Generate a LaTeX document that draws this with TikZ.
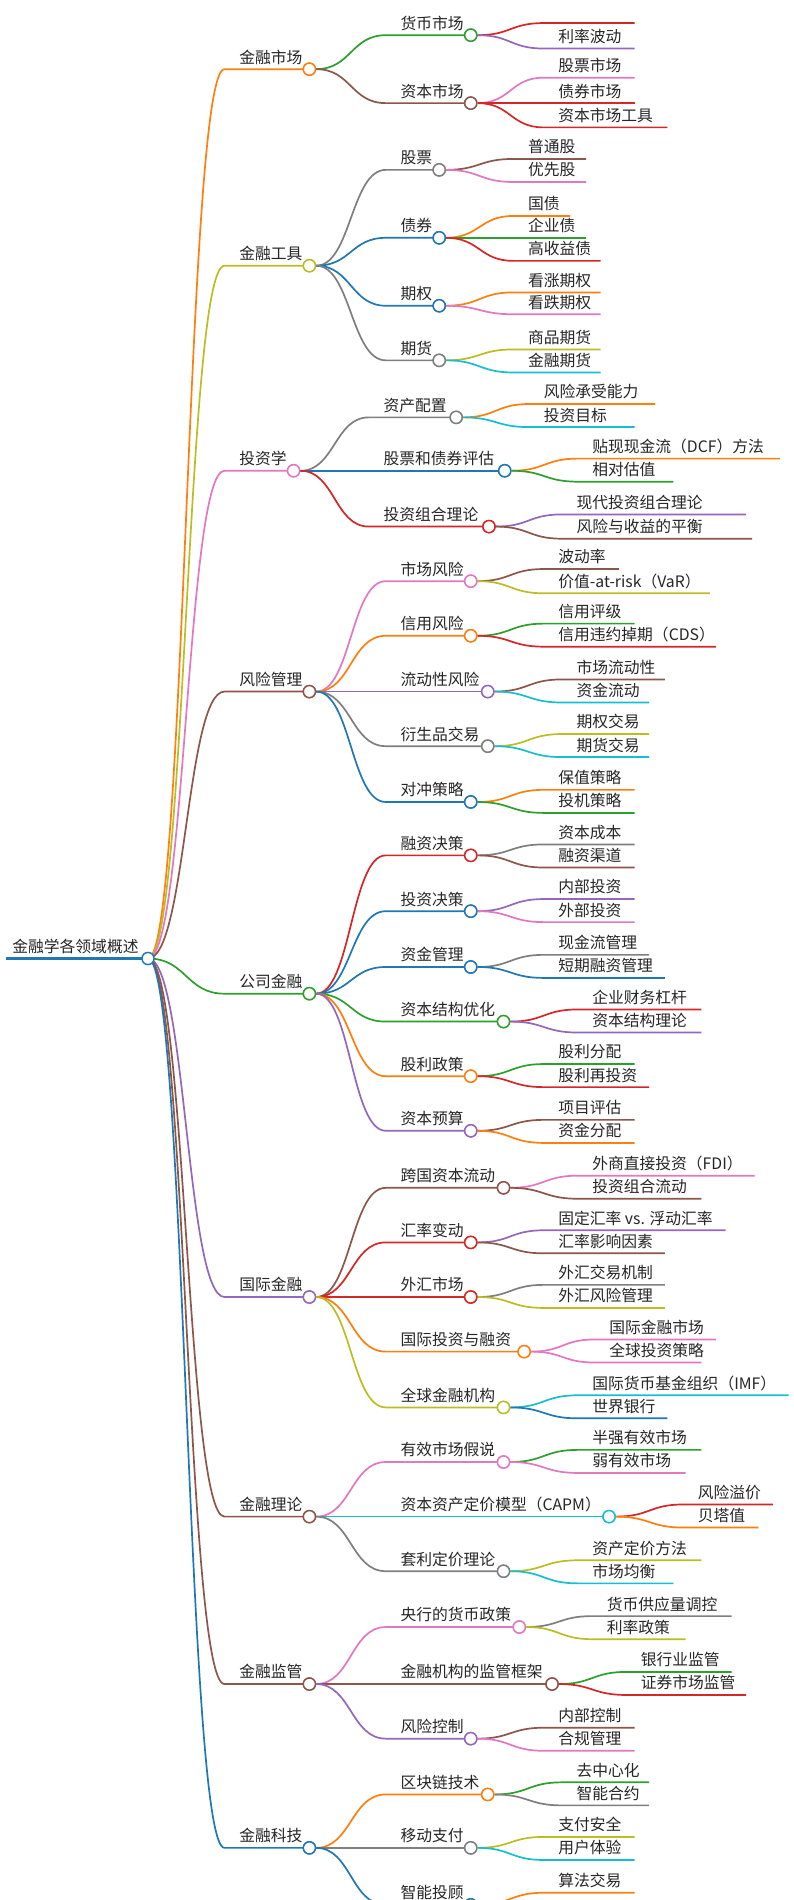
\documentclass[tikz,border=0pt]{standalone}
\usepackage{fontspec}
\setmainfont{Noto Sans CJK SC}
\usetikzlibrary{calc}
\definecolor{cb}{HTML}{1F77B4}\definecolor{co}{HTML}{FF7F0E}\definecolor{cg}{HTML}{2CA02C}
\definecolor{cr}{HTML}{D62728}\definecolor{cp}{HTML}{9467BD}\definecolor{cn}{HTML}{8C564B}
\definecolor{ck}{HTML}{E377C2}\definecolor{cy}{HTML}{7F7F7F}\definecolor{cl}{HTML}{BCBD22}
\definecolor{cc}{HTML}{17BECF}
\tikzset{lbl/.style={inner sep=0pt,font=\fontsize{13}{15}\selectfont,text=black!85,anchor=base west},
 lw/.style={line width=1.4pt},
 circ/.style={circle,draw,line width=1.2pt,fill=white,minimum size=10pt,inner sep=0pt}}
% #1 parent, #2 name, #3 color, #4 textx, #5 y, #6 endx, #7 text
\newcommand\br[7]{%
 \coordinate (#2s) at (#4-12,-#5);
 \coordinate (#2) at (#6,-#5);
 \node[lbl] (#2t) at (#4,-#5+5) {#7};
 \draw[#3,lw] let \p1=(#1), \p2=(#2s) in (\p1) .. controls ({\x1/2+\x2/2},\y1) and ({\x1/2+\x2/2},\y2) .. (\p2) -- (#2);}
\newcommand\brc[7]{\br{#1}{#2}{#3}{#4}{#5}{#6}{#7}\node[circ,draw=#3] (#2c) at (#2) {};}
\begin{document}
\begin{tikzpicture}[x=1pt,y=1pt]
\useasboundingbox (0,0) rectangle (654,-1566);
\clip (0,0) rectangle (654,-1566);
\fill[white] (0,0) rectangle (654,-1566);
\coordinate (rs) at (5,-790);
\coordinate (r) at (122,-790);
\node[lbl] (rt) at (10,-785) {金融学各领域概述};
\draw[cb,line width=2.6pt] (rs) -- (r);
% level 1
\brc{r}{A}{co}{197}{57}{255}{金融市场}
\brc{r}{B}{cl}{197}{219}{255}{金融工具}
\brc{r}{C}{ck}{197}{388}{242}{投资学}
\brc{r}{D}{cn}{197}{570}{255}{风险管理}
\brc{r}{E}{cg}{197}{819}{255}{公司金融}
\brc{r}{F}{cp}{197}{1069}{255}{国际金融}
\brc{r}{G}{cn}{197}{1250}{255}{金融理论}
\brc{r}{H}{cn}{197}{1388}{255}{金融监管}
\brc{r}{I}{cb}{197}{1523}{255}{金融科技}
\node[circ,draw=cb] (rc) at (r) {};
% 金融市场
\brc{Ac.east}{A1}{cg}{330}{29}{388}{货币市场}
\br{A1c.east}{A11}{cr}{460}{19}{523}{}
\br{A1c.east}{A12}{cp}{460}{40}{523}{利率波动}
\brc{Ac.east}{A2}{cn}{330}{85}{388}{资本市场}
\br{A2c.east}{A21}{ck}{460}{64}{523}{股票市场}
\br{A2c.east}{A22}{cr}{460}{85}{523}{债券市场}
\br{A2c.east}{A23}{cr}{460}{105}{550}{资本市场工具}
\node[circ,draw=cg] at (A1) {};\node[circ,draw=cn] at (A2) {};
% 金融工具
\brc{Bc.east}{B1}{cy}{330}{140}{362}{股票}
\br{B1c.east}{B11}{cn}{435}{131}{483}{普通股}
\br{B1c.east}{B12}{ck}{435}{150}{483}{优先股}
\brc{Bc.east}{B2}{cb}{330}{196}{362}{债券}
\br{B2c.east}{B21}{co}{435}{178}{470}{国债}
\br{B2c.east}{B22}{cg}{435}{196}{483}{企业债}
\br{B2c.east}{B23}{cr}{435}{215}{495}{高收益债}
\brc{Bc.east}{B3}{cb}{330}{252}{362}{期权}
\br{B3c.east}{B31}{co}{435}{241}{495}{看涨期权}
\br{B3c.east}{B32}{ck}{435}{259}{495}{看跌期权}
\brc{Bc.east}{B4}{cy}{330}{297}{362}{期货}
\br{B4c.east}{B41}{cl}{435}{288}{495}{商品期货}
\br{B4c.east}{B42}{cc}{435}{307}{495}{金融期货}
\foreach \n/\c in {B1/cy,B2/cb,B3/cb,B4/cy}{\node[circ,draw=\c] at (\n) {};}
% 投资学
\brc{Cc.east}{C1}{cy}{316}{344}{376}{资产配置}
\br{C1c.east}{C11}{co}{448}{333}{540}{风险承受能力}
\br{C1c.east}{C12}{cc}{448}{352}{523}{投资目标}
\brc{Cc.east}{C2}{cb}{316}{388}{416}{股票和债券评估}
\br{C2c.east}{C21}{co}{488}{378}{643}{贴现现金流（DCF）方法}
\br{C2c.east}{C22}{cg}{488}{397}{555}{相对估值}
\brc{Cc.east}{C3}{cr}{316}{434}{403}{投资组合理论}
\br{C3c.east}{C31}{cp}{475}{424}{615}{现代投资组合理论}
\br{C3c.east}{C32}{cn}{475}{444}{620}{风险与收益的平衡}
\foreach \n/\c in {C1/cy,C2/cb,C3/cr}{\node[circ,draw=\c] at (\n) {};}
% 风险管理
\brc{Dc.east}{D1}{ck}{330}{479}{388}{市场风险}
\br{D1c.east}{D11}{cn}{460}{469}{510}{波动率}
\br{D1c.east}{D12}{cl}{460}{489}{585}{价值-at-risk（VaR）}
\brc{Dc.east}{D2}{co}{330}{524}{388}{信用风险}
\br{D2c.east}{D21}{cg}{460}{514}{523}{信用评级}
\br{D2c.east}{D22}{cr}{460}{533}{590}{信用违约掉期（CDS）}
\brc{Dc.east}{D3}{cp}{330}{570}{402}{流动性风险}
\br{D3c.east}{D31}{cn}{475}{560}{548}{市场流动性}
\br{D3c.east}{D32}{cc}{475}{579}{535}{资金流动}
\brc{Dc.east}{D4}{cy}{330}{615}{402}{衍生品交易}
\br{D4c.east}{D41}{cl}{475}{605}{535}{期权交易}
\br{D4c.east}{D42}{cc}{475}{624}{535}{期货交易}
\brc{Dc.east}{D5}{cb}{330}{661}{388}{对冲策略}
\br{D5c.east}{D51}{co}{460}{651}{523}{保值策略}
\br{D5c.east}{D52}{cg}{460}{670}{523}{投机策略}
\foreach \n/\c in {D1/ck,D2/co,D3/cp,D4/cy,D5/cb}{\node[circ,draw=\c] at (\n) {};}
% 公司金融
\brc{Ec.east}{E1}{cr}{330}{705}{388}{融资决策}
\br{E1c.east}{E11}{cy}{460}{696}{523}{资本成本}
\br{E1c.east}{E12}{cn}{460}{715}{523}{融资渠道}
\brc{Ec.east}{E2}{cb}{330}{751}{388}{投资决策}
\br{E2c.east}{E21}{cp}{460}{741}{523}{内部投资}
\br{E2c.east}{E22}{ck}{460}{760}{523}{外部投资}
\brc{Ec.east}{E3}{cb}{330}{797}{388}{资金管理}
\br{E3c.east}{E31}{cy}{460}{787}{535}{现金流管理}
\br{E3c.east}{E32}{cb}{460}{806}{548}{短期融资管理}
\brc{Ec.east}{E4}{cg}{330}{842}{415}{资本结构优化}
\br{E4c.east}{E41}{cr}{488}{832}{578}{企业财务杠杆}
\br{E4c.east}{E42}{cp}{488}{851}{578}{资本结构理论}
\brc{Ec.east}{E5}{co}{330}{887}{388}{股利政策}
\br{E5c.east}{E51}{cg}{460}{877}{523}{股利分配}
\br{E5c.east}{E52}{cr}{460}{896}{535}{股利再投资}
\brc{Ec.east}{E6}{cp}{330}{932}{388}{资本预算}
\br{E6c.east}{E61}{cn}{460}{923}{523}{项目评估}
\br{E6c.east}{E62}{co}{460}{942}{523}{资金分配}
\foreach \n/\c in {E1/cr,E2/cb,E3/cb,E4/cg,E5/co,E6/cp}{\node[circ,draw=\c] at (\n) {};}
% 国际金融
\brc{Fc.east}{F1}{cn}{330}{979}{415}{跨国资本流动}
\br{F1c.east}{F11}{ck}{488}{969}{622}{外商直接投资（FDI）}
\br{F1c.east}{F12}{cn}{488}{988}{578}{投资组合流动}
\brc{Fc.east}{F2}{cr}{330}{1024}{388}{汇率变动}
\br{F2c.east}{F21}{cp}{460}{1014}{598}{固定汇率 vs. 浮动汇率}
\br{F2c.east}{F22}{cn}{460}{1033}{548}{汇率影响因素}
\brc{Fc.east}{F3}{cr}{330}{1069}{388}{外汇市场}
\br{F3c.east}{F31}{cy}{460}{1059}{548}{外汇交易机制}
\br{F3c.east}{F32}{cl}{460}{1078}{548}{外汇风险管理}
\brc{Fc.east}{F4}{co}{330}{1114}{432}{国际投资与融资}
\br{F4c.east}{F41}{ck}{502}{1104}{590}{国际金融市场}
\br{F4c.east}{F42}{ck}{502}{1123}{578}{全球投资策略}
\brc{Fc.east}{F5}{cl}{330}{1160}{415}{全球金融机构}
\br{F5c.east}{F51}{cc}{488}{1150}{650}{国际货币基金组织（IMF）}
\br{F5c.east}{F52}{cb}{488}{1169}{550}{世界银行}
\foreach \n/\c in {F1/cn,F2/cr,F3/cr,F4/co,F5/cl}{\node[circ,draw=\c] at (\n) {};}
% 金融理论
\brc{Gc.east}{G1}{ck}{330}{1205}{415}{有效市场假说}
\br{G1c.east}{G11}{cg}{488}{1195}{578}{半强有效市场}
\br{G1c.east}{G12}{ck}{488}{1214}{565}{弱有效市场}
\brc{Gc.east}{G2}{cc}{330}{1250}{502}{资本资产定价模型（CAPM）}
\br{G2c.east}{G21}{cr}{575}{1240}{637}{风险溢价}
\br{G2c.east}{G22}{co}{575}{1259}{625}{贝塔值}
\brc{Gc.east}{G3}{cy}{330}{1295}{415}{套利定价理论}
\br{G3c.east}{G31}{cl}{488}{1286}{578}{资产定价方法}
\br{G3c.east}{G32}{cc}{488}{1305}{555}{市场均衡}
\foreach \n/\c in {G1/ck,G2/cc,G3/cy}{\node[circ,draw=\c] at (\n) {};}
% 金融监管
\brc{Hc.east}{H1}{ck}{330}{1341}{428}{央行的货币政策}
\br{H1c.east}{H11}{cy}{500}{1332}{603}{货币供应量调控}
\br{H1c.east}{H12}{cl}{500}{1351}{565}{利率政策}
\brc{Hc.east}{H2}{cn}{330}{1388}{455}{金融机构的监管框架}
\br{H2c.east}{H21}{cg}{528}{1378}{603}{银行业监管}
\br{H2c.east}{H22}{cr}{528}{1397}{615}{证券市场监管}
\brc{Hc.east}{H3}{cp}{330}{1433}{388}{风险控制}
\br{H3c.east}{H31}{cn}{460}{1424}{523}{内部控制}
\br{H3c.east}{H32}{ck}{460}{1443}{523}{合规管理}
\foreach \n/\c in {H1/ck,H2/cn,H3/cp}{\node[circ,draw=\c] at (\n) {};}
% 金融科技
\brc{Ic.east}{I1}{co}{330}{1479}{402}{区块链技术}
\br{I1c.east}{I11}{cg}{475}{1469}{535}{去中心化}
\br{I1c.east}{I12}{cy}{475}{1488}{535}{智能合约}
\brc{Ic.east}{I2}{cy}{330}{1523}{388}{移动支付}
\br{I2c.east}{I21}{cl}{460}{1514}{523}{支付安全}
\br{I2c.east}{I22}{cc}{460}{1533}{523}{用户体验}
\brc{Ic.east}{I3}{cb}{330}{1570}{388}{智能投顾}
\br{I3c.east}{I31}{co}{460}{1560}{523}{算法交易}
\foreach \n/\c in {I1/co,I2/cy,I3/cb}{\node[circ,draw=\c] at (\n) {};}
\foreach \n/\c in {A/co,B/cl,C/ck,D/cn,E/cg,F/cp,G/cn,H/cn,I/cb}{\node[circ,draw=\c] at (\n) {};}
\end{tikzpicture}
\end{document}
